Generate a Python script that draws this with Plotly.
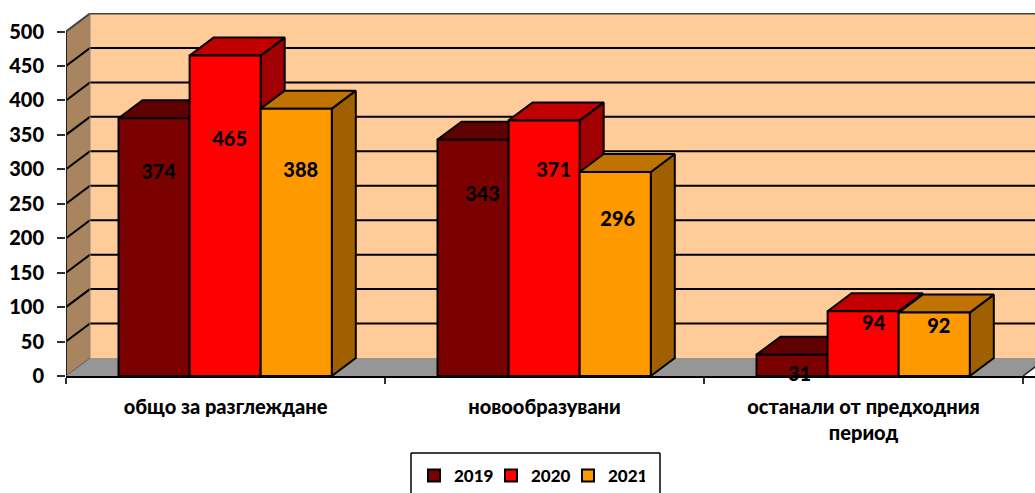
import plotly.graph_objects as go

CATEGORIES = ["общо за разглеждане", "новообразувани", "останали от предходния<br>период"]
YEARS = ["2019", "2020", "2021"]
V2019 = [374, 343, 31]
V2020 = [465, 371, 94]
V2021 = [388, 296, 92]
Y_TICKS = [0, 50, 100, 150, 200, 250, 300, 350, 400, 450, 500]

SERIES = [V2019, V2020, V2021]
FRONT = ["#7B0000", "#FF0000", "#FF9900"]
TOP = ["#600000", "#C00000", "#C07300"]
SIDE = ["#600000", "#A00000", "#A06000"]

W, H = 1035, 493
X0, X3, Y0, YTOP = 66, 1023, 376, 13      # pixel frame of the plot
PX_PER_CAT = (X3 - X0) / 3
PX_PER_VAL = 0.689
DX = 24 / PX_PER_CAT
DY = 18 / PX_PER_VAL
GAP = 52.5 / PX_PER_CAT
BW = 71.1 / PX_PER_CAT
XMAX = (W - X0) / PX_PER_CAT
YMAX = (Y0 - YTOP) / PX_PER_VAL

# label nudges (pixels) relative to bar centre / bar top
LABEL_DX = [[4.5, 9.5, 7.5], [4.5, 9.5, 10.5], [4.5, 2.5, 4.5]]
LABEL_DOWN = [[56, 56, 21], [85, 52, 14], [63, 49, 15]]

fig = go.Figure()


def poly(xs, ys, fill, line="#000000", lw=2):
    fig.add_trace(go.Scatter(x=xs, y=ys, mode="lines", fill="toself", fillcolor=fill,
                             line=dict(color=line, width=lw), hoverinfo="skip",
                             showlegend=False, cliponaxis=False))


def line(xs, ys, color="#000000", lw=2):
    fig.add_trace(go.Scatter(x=xs, y=ys, mode="lines", line=dict(color=color, width=lw),
                             hoverinfo="skip", showlegend=False, cliponaxis=False))


# walls and floor
poly([DX, 3 + DX, 3 + DX, DX, DX], [DY, DY, 500 + DY, 500 + DY, DY], "#FFCC99", "rgba(0,0,0,0)", 0)
poly([0, DX, DX, 0, 0], [0, DY, 500 + DY, 500, 0], "#A8845F", "rgba(0,0,0,0)", 0)
poly([0, 3, 3 + DX, DX, 0], [0, 0, DY, DY, 0], "#969696", "rgba(0,0,0,0)", 0)

# grid lines on the side wall and back wall
for v in Y_TICKS[1:-1]:
    line([0, DX, 3 + DX], [v, v + DY, v + DY])
line([0, DX, 3 + DX], [500, 500 + DY, 500 + DY], "#404040", 2)
line([DX, DX], [DY, 500 + DY], "#8A8A8A", 1)
line([0, 0], [0, 500], "#202020", 2)
line([0, DX], [0, DY], "#5A5A5A", 1)
line([3, 3 + DX], [0, DY], "#202020", 1.5)

# bars, painted back to front
for s, vals in enumerate(SERIES):
    sx, sy, tx, ty, fx, fy = [], [], [], [], [], []
    for c, v in enumerate(vals):
        a = c + GAP + s * BW
        b = a + BW
        sx += [b, b + DX, b + DX, b, b, None]
        sy += [0, DY, v + DY, v, 0, None]
        tx += [a, b, b + DX, a + DX, a, None]
        ty += [v, v, v + DY, v + DY, v, None]
        fx += [a, b, b, a, a, None]
        fy += [0, 0, v, v, 0, None]
    poly(sx, sy, SIDE[s])
    poly(tx, ty, TOP[s])
    poly(fx, fy, FRONT[s])

# data labels
for s, vals in enumerate(SERIES):
    lx = [c + GAP + (s + 0.5) * BW + LABEL_DX[s][c] / PX_PER_CAT for c in range(3)]
    ly = [v - LABEL_DOWN[s][c] / PX_PER_VAL for c, v in enumerate(vals)]
    fig.add_trace(go.Scatter(x=lx, y=ly, mode="text", text=[str(v) for v in vals],
                             textposition="middle center", cliponaxis=False,
                             textfont=dict(family="Lato", size=20, color="#000000", weight=900),
                             hoverinfo="skip", showlegend=False))

# legend entries
for s, yr in enumerate(YEARS):
    fig.add_trace(go.Scatter(x=[None], y=[None], mode="markers", name=yr,
                             marker=dict(symbol="square", size=11, color=FRONT[s],
                                         line=dict(color="#000000", width=2))))

# legend frame (runs off the bottom of the page)
for x0, y0, x1, y1 in [(411, 493, 411, 453), (411, 453, 660, 453), (660, 453, 660, 493)]:
    fig.add_shape(type="line", xref="paper", yref="paper", x0=x0 / W, x1=x1 / W,
                  y0=1 - y0 / H, y1=1 - y1 / H, line=dict(color="#000000", width=1.5))

tickfont = dict(family="Lato", size=20, color="#000000", weight=900)
fig.update_layout(
    width=W, height=H, margin=dict(l=0, r=0, t=0, b=0, autoexpand=False),
    paper_bgcolor="#FFFFFF", plot_bgcolor="rgba(0,0,0,0)",
    xaxis=dict(domain=[X0 / W, 1], range=[0, XMAX], tickmode="array",
               tickvals=[0.5, 1.5, 2.5], ticktext=CATEGORIES, tickangle=0, ticks="",
               ticklabelstandoff=12, showgrid=False, zeroline=False, showline=True,
               linecolor="#000000", linewidth=2, tickfont=tickfont,
               minor=dict(tickvals=[0, 1, 2, 3], ticks="outside", ticklen=6,
                          tickcolor="#303030", tickwidth=1.5, showgrid=False)),
    yaxis=dict(domain=[1 - Y0 / H, 1 - YTOP / H], range=[0, YMAX], tickmode="array",
               tickvals=Y_TICKS, ticks="outside", ticklen=8, tickcolor="#303030",
               tickwidth=1.5, ticklabelstandoff=9, showgrid=False, zeroline=False,
               showline=False, tickfont=tickfont),
    showlegend=True,
    legend=dict(orientation="h", xref="paper", yref="paper", x=414 / W, y=1 - 476 / H,
                xanchor="left", yanchor="middle", bgcolor="rgba(0,0,0,0)", borderwidth=0,
                font=dict(family="Lato", size=17, color="#000000", weight=900),
                entrywidth=32, entrywidthmode="pixels", itemsizing="constant", traceorder="normal"),
)
fig.write_html("out.html", config={"displayModeBar": False},
               post_script="document.body.style.margin='0';document.body.style.overflow='hidden';")
